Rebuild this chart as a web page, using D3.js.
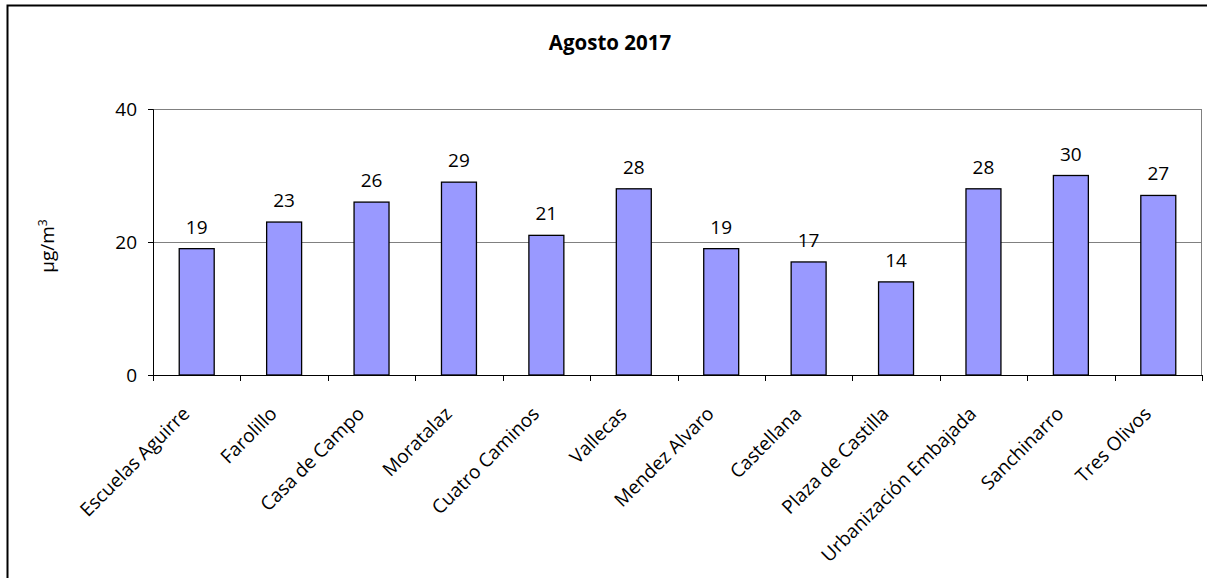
<!DOCTYPE html>
<html>
<head>
<meta charset="utf-8">
<script src="https://cdn.jsdelivr.net/npm/d3@7"></script>
<style>
  body { margin: 0; background: #fff; }
  text { font-family: "Open Sans", sans-serif; fill: #000; }
</style>
</head>
<body>
<div class="chart"></div>
<script>
// chart data
let stations = ["Escuelas Aguirre", "Farolillo", "Casa de Campo", "Moratalaz", "Cuatro Caminos",
  "Vallecas", "Mendez Alvaro", "Castellana", "Plaza de Castilla", "Urbanización Embajada",
  "Sanchinarro", "Tres Olivos"];
let values = [19, 23, 26, 29, 21, 28, 19, 17, 14, 28, 30, 27];
let yTicks = [0, 20, 40];
let title = "Agosto 2017";

let svgWidth = 1207;
let svgHeight = 578;
let margin = { top: 109, right: 5, bottom: 203, left: 153 };
let width = svgWidth - margin.left - margin.right;
let height = svgHeight - margin.top - margin.bottom;

let svg = d3.select(".chart")
  .append("svg")
  .attr("width", svgWidth)
  .attr("height", svgHeight);

// outer frame
svg.append("rect")
  .attr("x", 7.5)
  .attr("y", 5.5)
  .attr("width", svgWidth)
  .attr("height", svgHeight)
  .attr("fill", "none")
  .attr("stroke", "#000")
  .attr("stroke-width", 2);

svg.append("text")
  .attr("x", 610)
  .attr("y", 50)
  .attr("text-anchor", "middle")
  .attr("font-size", "20.5px")
  .attr("font-weight", "bold")
  .text(title);

let chartGroup = svg.append("g")
  .attr("transform", `translate(${margin.left}, ${margin.top})`);

let xScale = d3.scaleBand()
  .domain(stations)
  .range([0, width])
  .padding(0);

let yScale = d3.scaleLinear()
  .domain([0, 40])
  .range([height, 0]);

// gridlines
chartGroup.selectAll(".grid")
  .data(yTicks.filter(d => d > 0))
  .enter()
  .append("line")
  .attr("x1", 0)
  .attr("x2", width)
  .attr("y1", d => Math.round(yScale(d)) + 0.5)
  .attr("y2", d => Math.round(yScale(d)) + 0.5)
  .attr("stroke", "#808080")
  .attr("stroke-width", 1);

// right border of plot area
chartGroup.append("line")
  .attr("x1", width - 0.5)
  .attr("x2", width - 0.5)
  .attr("y1", 0)
  .attr("y2", height)
  .attr("stroke", "#808080");

// bars
let barW = xScale.bandwidth() * 0.4;
chartGroup.selectAll("rect.bar")
  .data(values)
  .enter()
  .append("rect")
  .attr("class", "bar")
  .attr("x", (d, i) => xScale(stations[i]) + (xScale.bandwidth() - barW) / 2)
  .attr("y", d => yScale(d))
  .attr("width", barW)
  .attr("height", d => height - yScale(d))
  .attr("fill", "#9999FF")
  .attr("stroke", "#000")
  .attr("stroke-width", 1.3);

// value labels
chartGroup.selectAll("text.val")
  .data(values)
  .enter()
  .append("text")
  .attr("class", "val")
  .attr("x", (d, i) => xScale(stations[i]) + xScale.bandwidth() / 2)
  .attr("y", d => yScale(d) - 15)
  .attr("text-anchor", "middle")
  .attr("font-size", "19px")
  .text(d => d);

// y axis
let leftAxis = d3.axisLeft(yScale)
  .tickValues(yTicks)
  .tickSize(5)
  .tickPadding(11);
let yAxis = chartGroup.append("g").call(leftAxis);
yAxis.select(".domain").attr("stroke", "#000");
yAxis.selectAll("text").attr("font-size", "19px").attr("font-family", "'Open Sans', sans-serif");

// x axis, ticks between categories
let bottomAxis = d3.axisBottom(xScale).tickSize(0).tickFormat("");
let xAxis = chartGroup.append("g")
  .attr("transform", `translate(0, ${height})`)
  .call(bottomAxis);
xAxis.select(".domain").attr("stroke", "#000");
chartGroup.selectAll(".xtick")
  .data(d3.range(stations.length + 1))
  .enter()
  .append("line")
  .attr("x1", i => Math.round(i * xScale.step()) + 0.5)
  .attr("x2", i => Math.round(i * xScale.step()) + 0.5)
  .attr("y1", height)
  .attr("y2", height + 6)
  .attr("stroke", "#000");

// category labels
chartGroup.selectAll("text.cat")
  .data(stations)
  .enter()
  .append("text")
  .attr("class", "cat")
  .attr("text-anchor", "end")
  .attr("font-size", "19px")
  .attr("transform", d => `translate(${xScale(d) + xScale.bandwidth() / 2 - 6}, ${height + 40}) rotate(-45)`)
  .text(d => d);

// y axis title
let yTitle = svg.append("text")
  .attr("transform", "translate(54, 246) rotate(-90)")
  .attr("text-anchor", "middle")
  .attr("font-size", "19px");
yTitle.append("tspan").text("µg/m");
yTitle.append("tspan").attr("dy", "-0.6em").attr("font-size", "12px").text("3");
</script>
</body>
</html>
